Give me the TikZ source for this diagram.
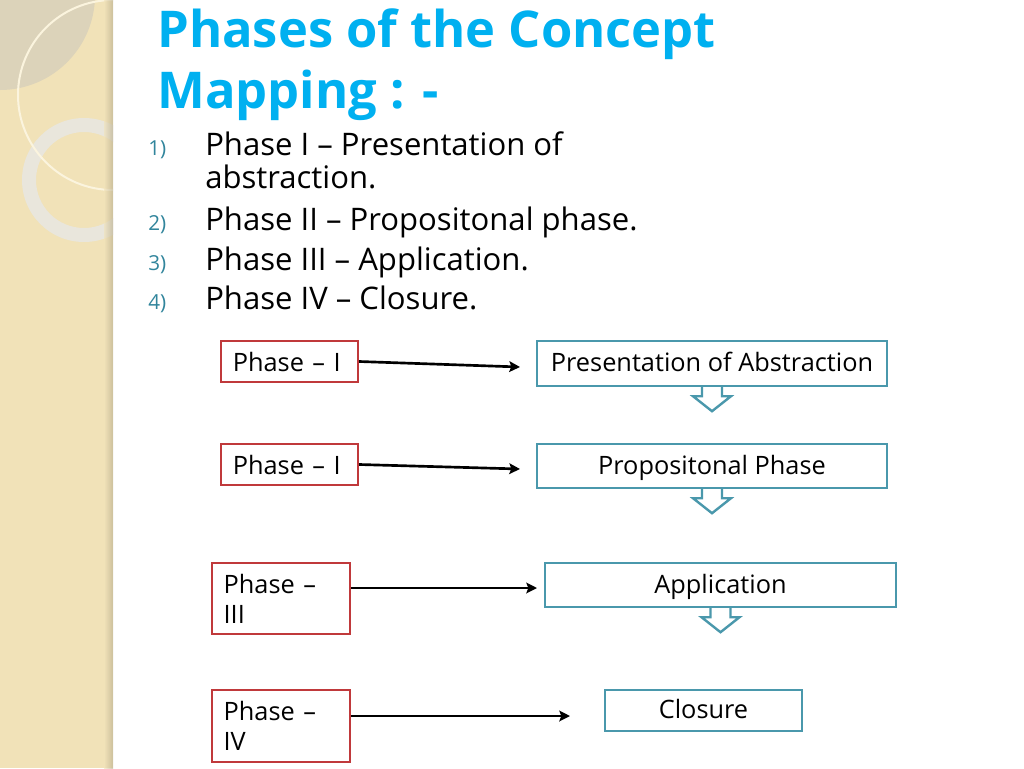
\documentclass[tikz,border=0pt]{standalone}
\usepackage{fontspec}
\setmainfont{Open Sans}
\usepackage{xcolor}
\usetikzlibrary{arrows.meta, positioning, calc}
\definecolor{titleblue}{HTML}{00B0F0}
\definecolor{numteal}{HTML}{31859C}
\definecolor{boxred}{HTML}{C0393B}
\definecolor{boxteal}{HTML}{4A98AC}
\definecolor{stripbeige}{HTML}{F1E2B8}
\definecolor{discgray}{HTML}{DCD3BA}
\definecolor{ringgray}{HTML}{E9E6DC}
\definecolor{arccream}{HTML}{FBF4DE}
\tikzset{
    phasebox/.style={
        rectangle,
        draw=boxred,
        line width=1.8pt,
        fill=white,
        inner xsep=8.5pt,
        align=left,
        font=\fontsize{19}{22.5}\selectfont,
    },
    stagebox/.style={
        rectangle,
        draw=boxteal,
        line width=1.8pt,
        fill=white,
        align=center,
        text height=13.5pt,
        text depth=1pt,
        font=\fontsize{19}{22.5}\selectfont,
    },
    link/.style={
        ->,
        line width=2pt,
    },
    listnum/.style={
        anchor=base west,
        inner sep=0pt,
        text=numteal,
        font=\fontsize{15.5}{18}\selectfont,
    },
    listtext/.style={
        anchor=base west,
        inner sep=0pt,
        align=left,
        font=\fontsize{23.3}{24.75}\selectfont,
    },
}

\begin{document}
\begin{tikzpicture}[x=0.75pt,y=-0.75pt,>={Stealth[length=8pt,width=8pt,inset=1.5pt]}]
      \useasboundingbox (0,0) rectangle (1024,768);
      \fill[white] (0,0) rectangle (1024,768);

      % left strip
      \begin{scope}
        \clip (0,0) rectangle (113,768);
        \fill[stripbeige] (0,0) rectangle (113,768);
        \fill[discgray] (0,-5) circle (95);
        \fill[ringgray, even odd rule] (84,180) circle (62) (84,180) circle (48);
        \draw[arccream, line width=1.5pt] (113,95) circle (95);
        \shade[left color=stripbeige, right color=stripbeige!75!black, opacity=0.6] (104,0) rectangle (113,768);
      \end{scope}

      % title and list (base = last line)
      \node [anchor=base west, inner sep=0pt, align=left, text=titleblue,
             font=\fontsize{38}{45.75}\selectfont\bfseries] (title) at (157,108)
             {Phases of the Concept\\Mapping : -};

      \node [listnum] (n1) at (148,155) {1)};
      \node [listnum] (n2) at (148,230) {2)};
      \node [listnum] (n3) at (148,270) {3)};
      \node [listnum] (n4) at (148,309) {4)};
      \node [listtext] (item1) at (205,188) {Phase I – Presentation of\\abstraction.};
      \node [listtext] (item2) at (205,230) {Phase II – Propositonal phase.};
      \node [listtext] (item3) at (205,270) {Phase III – Application.};
      \node [listtext] (item4) at (205,309) {Phase IV – Closure.};

      % phase boxes
      \node [phasebox, minimum width=102.75pt, minimum height=30.75pt, text width=85pt] (p1) at (289.5,361.5) {Phase – I};
      \node [phasebox, minimum width=102.75pt, minimum height=30.75pt, text width=85pt] (p2) at (289.5,464.5) {Phase – I};
      \node [phasebox, minimum width=103.5pt, minimum height=53.25pt, text width=86pt] (p3) at (281,598.5) {Phase –\\III};
      \node [phasebox, minimum width=103.5pt, minimum height=54pt, text width=86pt] (p4) at (281,726) {Phase –\\IV};

      % stage boxes
      \node [stagebox, minimum width=262.5pt, minimum height=33.75pt] (s1) at (712,363.5) {Presentation of Abstraction};
      \node [stagebox, minimum width=262.5pt, minimum height=33pt] (s2) at (712,466) {Propositonal Phase};
      \node [stagebox, minimum width=263.25pt, minimum height=33pt] (s3) at (720.5,585) {Application};
      \node [stagebox, minimum width=147.75pt, minimum height=30.75pt] (s4) at (703.5,710.5) {Closure};

      \foreach \s in {s1,s2,s3}
        \draw[boxteal, line width=1.8pt, fill=white] ($(\s.south)+(-10,0)$) -- ++(0,9) -- ++(-9,0)
          -- ($(\s.south)+(0,24)$) -- ++(19,-15) -- ++(-9,0) -- ++(0,-9);

      % arrows
      \coordinate (e1) at (520,367);
      \coordinate (e2) at (520,469);
      \coordinate (e3) at (537,588);
      \coordinate (e4) at (570,716);

      \draw[link] (p1.east) -- (e1);
      \draw[link] (p2.east) -- (e2);
      \draw[link] (p3.east |- e3) -- (e3);
      \draw[link] (p4.east |- e4) -- (e4);
\end{tikzpicture}
\end{document}
